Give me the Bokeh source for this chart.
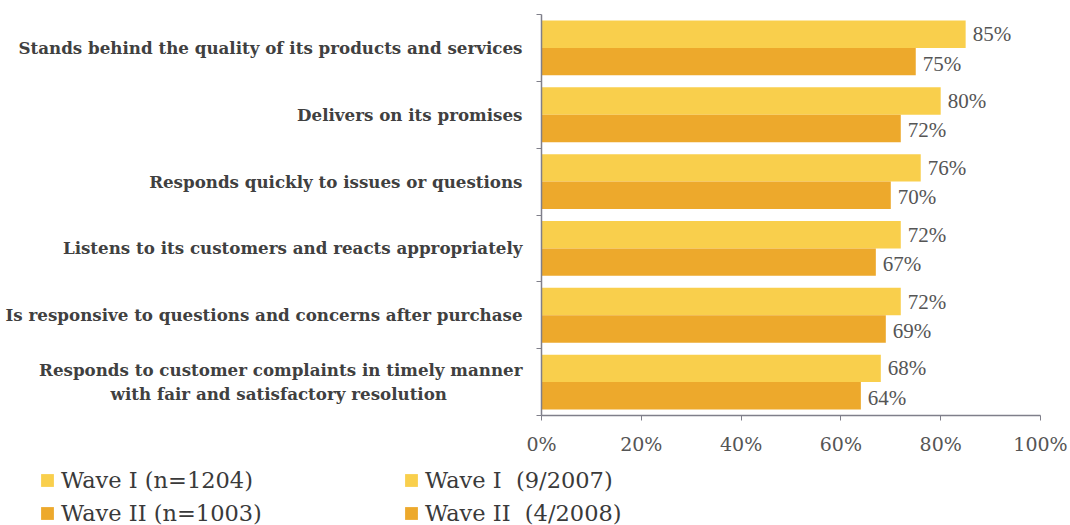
from bokeh.plotting import figure
from bokeh.models import (ColumnDataSource, LabelSet, FixedTicker, Legend, LegendItem,
                          Range1d, NumeralTickFormatter)
from bokeh.embed import file_html
from bokeh.resources import INLINE

NB = "\u00a0"
categories = [
    "Stands behind the quality of its products and services",
    "Delivers on its promises",
    "Responds quickly to issues or questions",
    "Listens to its customers and reacts appropriately",
    "Is responsive to questions and concerns after purchase",
    "Responds to customer complaints in timely manner\nwith fair and satisfactory resolution" + NB * 13,
]
wave1 = [85, 80, 76, 72, 72, 68]
wave2 = [75, 72, 70, 67, 69, 64]
x_ticks = [0, 20, 40, 60, 80, 100]
legend_labels = ["Wave I (n=1204)", "Wave II (n=1003)", "Wave I  (9/2007)", "Wave II  (4/2008)"]

C1 = "#F9CF4C"
C2 = "#EDA92C"
n = len(categories)
centers = [n - 0.5 - i for i in range(n)]

src1 = ColumnDataSource(dict(y=[c + 0.205 for c in centers], v=wave1, t=[f"{v}%" for v in wave1]))
src2 = ColumnDataSource(dict(y=[c - 0.205 for c in centers], v=wave2, t=[f"{v}%" for v in wave2]))

W, H = 1070, 525
X0, X100 = 541, 1040      # pixel columns of 0% and 100%
YT, YB = 14, 415          # pixel rows of the top and bottom of the category band
sx = (X100 - X0) / 100.0
sy = (YB - YT) / n
x_range = Range1d(-X0 / sx, 100 + (W - X100) / sx)
y_range = Range1d(-(H - YB) / sy, n + YT / sy)

p = figure(width=W, height=H, output_backend="svg", toolbar_location=None,
           x_range=x_range, y_range=y_range,
           min_border_left=0, min_border_right=0, min_border_top=0, min_border_bottom=0)
p.outline_line_color = None
p.xgrid.visible = False
p.ygrid.visible = False
p.background_fill_color = "white"
p.border_fill_color = "white"

r1 = p.hbar(y="y", right="v", left=0, height=0.41, source=src1, fill_color=C1, line_color=None)
r2 = p.hbar(y="y", right="v", left=0, height=0.41, source=src2, fill_color=C2, line_color=None)

lab_font = "DejaVu Serif"
for s, dy in ((src1, 0), (src2, -2)):
    p.add_layout(LabelSet(x="v", y="y", text="t", source=s, x_offset=7, y_offset=dy,
                          text_baseline="middle", text_font=lab_font, text_font_size="21px",
                          text_color="#555555"))

# x axis
xa = p.xaxis[0]
xa.fixed_location = 0
xa.bounds = (0, 100)
xa.ticker = FixedTicker(ticks=x_ticks)
xa.formatter = NumeralTickFormatter(format="0")
xa.major_label_overrides = {t: f"{t}%" for t in x_ticks}
xa.major_label_text_font = lab_font
xa.major_label_text_font_size = "19px"
xa.major_label_text_color = "#555555"
xa.axis_line_color = "#7f7f8a"
xa.axis_line_width = 1.5
xa.major_tick_line_color = "#7f7f8a"
xa.major_tick_out = 5
xa.major_tick_in = 0
xa.minor_tick_line_color = None
xa.major_label_standoff = 12

# y axis
ya = p.yaxis[0]
ya.fixed_location = 0
ya.bounds = (0, n)
ya.ticker = FixedTicker(ticks=centers, minor_ticks=list(range(n + 1)))
ya.major_label_overrides = {c: categories[i] for i, c in enumerate(centers)}
ya.major_tick_line_color = None
ya.minor_tick_line_color = "#7f7f8a"
ya.minor_tick_out = 5
ya.minor_tick_in = 0
ya.axis_line_color = "#7f7f8a"
ya.axis_line_width = 1.5
ya.major_label_text_font = lab_font
ya.major_label_text_font_style = "bold"
ya.major_label_text_font_size = "16.7px"
ya.major_label_text_color = "#404040"
ya.major_label_standoff = 13

items = [LegendItem(label=lab, renderers=[r]) for lab, r in zip(legend_labels, [r1, r2, r1, r2])]
leg = Legend(items=items, ncols=2, location=(39, -1), padding=0, margin=0,
             border_line_color=None, background_fill_alpha=0,
             glyph_width=16, glyph_height=16, label_standoff=6, label_width=336,
             spacing=6, label_text_font="DejaVu Serif", label_text_font_size="22.5px",
             label_text_color="#3a3a3a", label_height=27)
p.add_layout(leg, "center")

open("out.html", "w").write(file_html(p, INLINE))
